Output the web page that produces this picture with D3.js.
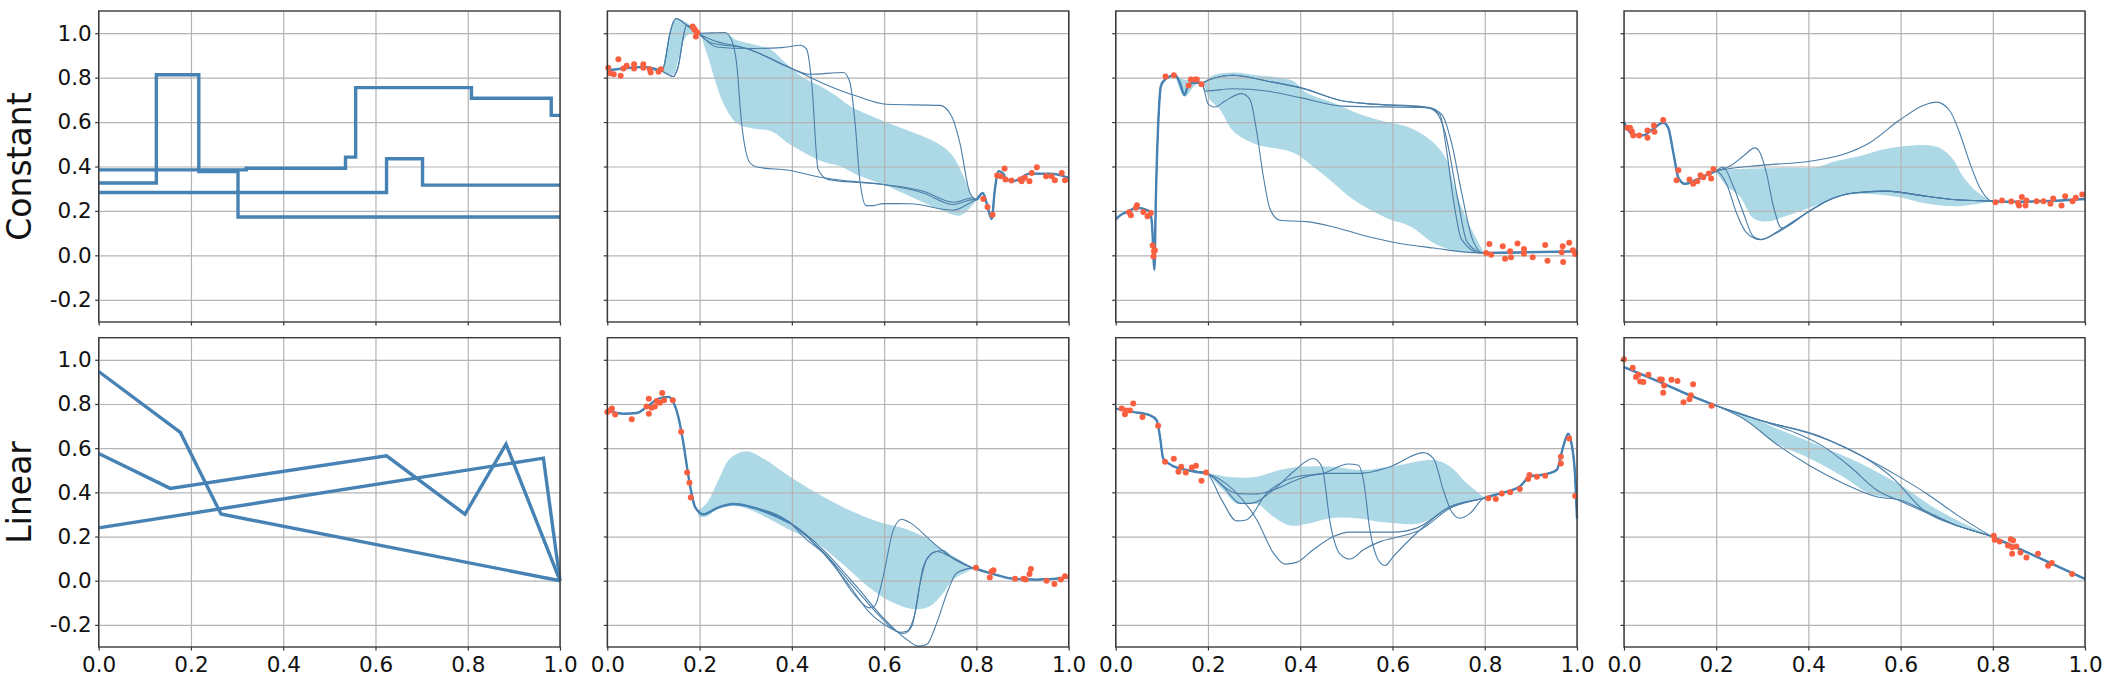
<!DOCTYPE html>
<html>
<head>
<meta charset="utf-8">
<script src="https://cdn.jsdelivr.net/npm/d3@7"></script>
<style>
  html, body { margin: 0; padding: 0; background: #fff; }
  text { font-family: "DejaVu Sans", sans-serif; fill: #111; }
</style>
</head>
<body>
<svg id="chart" width="2110" height="680"></svg>
<script>
const xTicks = [0, 0.2, 0.4, 0.6, 0.8, 1.0];
const yTicks = [-0.2, 0, 0.2, 0.4, 0.6, 0.8, 1.0];
const rowLabels = ["Constant", "Linear"];

// first column: the basis functions
const stepA = [[0,.326],[.125,.813],[.217,.377],[.302,.173],[1,.173]];
const stepB = [[0,.385],[.32,.392],[.535,.442],[.557,.755],[.808,.707],[.981,.63],[1,.63]];
const stepC = [[0,.283],[.624,.435],[.702,.316],[1,.316]];
const linA = [[0,.947],[.177,.671],[.265,.302],[1,0]];
const linB = [[0,.576],[.155,.418],[.624,.565],[.794,.301],[.883,.618],[1,0]];
const linC = [[0,.239],[.964,.555],[1,0]];

// Constant, second column
const cALeft = [[0,.833],[.035,.841],[.078,.848],[.118,.830]];
const cARight = [[.801,.251],[.814,.281],[.822,.236],[.833,.164],[.840,.296],[.848,.379],[.858,.368],[.866,.341],[.880,.334],[.916,.368],[.960,.368],[1,.349]];
const cAUp = [[.123,.853],[.136,1.003],[.149,1.066],[.172,1.036]];
const cADown = [[.143,.805],[.152,.838],[.172,1.036]];
const cAUpper = [[.120,.830],[.136,1.003],[.149,1.063],[.172,1.048],[.197,1.0],[.255,1.0],[.280,.970],[.324,.946],[.356,.925],[.382,.875],[.425,.800],[.468,.755],[.497,.717],[.526,.672],[.598,.605],[.656,.559],[.714,.507],[.746,.454],[.772,.356],[.790,.266],[.801,.251]];
const cALower = [[.125,.820],[.143,.815],[.154,.883],[.172,.988],[.197,1.0],[.215,.913],[.233,.792],[.251,.687],[.280,.596],[.316,.571],[.356,.559],[.396,.499],[.468,.421],[.504,.402],[.540,.364],[.598,.319],[.656,.266],[.721,.206],[.764,.179],[.793,.229],[.801,.251]];
const cA1 = [[.197,1.0],[.255,1.003],[.270,.965],[.280,.868],[.291,.597],[.309,.417],[.324,.398],[.396,.382],[.468,.349],[.526,.334],[.598,.319],[.685,.281],[.750,.229],[.793,.251]];
const cA2 = [[.197,1.0],[.237,.938],[.302,.931],[.378,.935],[.418,.946],[.432,.928],[.443,.777],[.457,.386],[.479,.341],[.598,.319],[.685,.289],[.750,.239],[.793,.259]];
const cA3 = [[.197,1.0],[.223,.958],[.302,.931],[.396,.845],[.439,.815],[.512,.823],[.526,.777],[.537,.597],[.548,.326],[.561,.224],[.577,.224],[.598,.233],[.656,.232],[.750,.203],[.793,.244]];
const cA4 = [[.197,1.0],[.223,.973],[.302,.931],[.396,.845],[.468,.774],[.540,.717],[.605,.680],[.721,.675],[.746,.627],[.764,.507],[.786,.281]];
const cAPoints = [[.002,.845],[.006,.820],[.014,.815],[.024,.883],[.029,.808],[.035,.841],[.042,.853],[.058,.860],[.058,.841],[.078,.860],[.078,.845],[.092,.838],[.094,.823],[.116,.838],[.111,.826],[.185,1.030],[.190,1.015],[.195,1.003],[.192,.985],[.188,1.02],[.815,.254],[.824,.218],[.835,.183],[.845,.359],[.853,.356],[.861,.391],[.863,.341],[.876,.337],[.895,.341],[.898,.334],[.905,.349],[.915,.334],[.920,.371],[.931,.397],[.951,.356],[.963,.356],[.970,.338],[.985,.371],[.992,.338]];

// Constant, third column
const cBLeft = [[0,.161],[.009,.179],[.027,.198],[.046,.214],[.074,.198],[.079,.131],[.084,-.065],[.087,.251],[.092,.582],[.098,.762],[.107,.792],[.129,.811],[.139,.777],[.149,.722],[.158,.770],[.172,.777],[.186,.777]];
const cBRight = [[.797,.011],[1,.018]];
const cBUpper = [[.129,.811],[.149,.790],[.172,.790],[.186,.777],[.212,.811],[.255,.823],[.306,.811],[.356,.800],[.385,.785],[.414,.732],[.472,.687],[.530,.635],[.587,.600],[.638,.574],[.689,.507],[.717,.432],[.736,.296],[.761,.161],[.797,.018]];
const cBLower = [[.129,.811],[.149,.715],[.172,.765],[.186,.777],[.204,.702],[.226,.657],[.255,.559],[.306,.499],[.385,.462],[.436,.386],[.472,.326],[.515,.251],[.587,.168],[.638,.131],[.689,.056],[.732,.023],[.797,.011]];
const cB1 = [[.201,.680],[.215,.668],[.237,.695],[.273,.728],[.291,.702],[.306,.552],[.320,.356],[.335,.206],[.356,.158],[.414,.152],[.472,.128],[.544,.086],[.602,.059],[.689,.033],[.790,.011]];
const cB2 = [[.194,.740],[.255,.750],[.327,.740],[.400,.710],[.493,.672],[.674,.665],[.703,.635],[.717,.477],[.732,.251],[.750,.071],[.790,.011]];
const cB3 = [[.204,.792],[.255,.811],[.327,.785],[.400,.755],[.493,.695],[.544,.683],[.674,.665],[.696,.642],[.714,.552],[.743,.236],[.761,.063],[.790,.014]];
const cB4 = [[.204,.792],[.255,.811],[.327,.785],[.400,.755],[.493,.695],[.544,.683],[.674,.668],[.707,.635],[.728,.507],[.750,.281],[.775,.063]];
const cBPoints = [[.029,.194],[.033,.180],[.044,.214],[.046,.226],[.060,.195],[.069,.176],[.076,.191],[.080,.044],[.083,.018],[.085,.023],[.082,-.005],[.108,.805],[.126,.811],[.158,.765],[.163,.792],[.176,.792],[.172,.792],[.186,.770],[.803,.011],[.810,.051],[.814,.003],[.839,.041],[.844,-.015],[.855,.018],[.857,-.008],[.871,.053],[.885,.029],[.885,.008],[.904,-.008],[.931,.047],[.936,-.024],[.969,.041],[.967,.014],[.970,-.030],[.983,.057],[.991,.023],[.996,.006]];

// Constant, fourth column
const cCLeft = [[0,.600],[.009,.564],[.020,.544],[.042,.540],[.064,.571],[.085,.597],[.096,.574],[.107,.462],[.118,.349],[.132,.322],[.158,.341],[.186,.368],[.199,.379]];
const cCRight = [[.798,.244],[.837,.241],[.909,.244],[1,.254]];
const cCUpper = [[.199,.379],[.223,.386],[.353,.394],[.418,.397],[.454,.421],[.512,.447],[.569,.480],[.656,.496],[.685,.484],[.714,.432],[.735,.356],[.764,.289],[.798,.244]];
const cCLower = [[.199,.379],[.223,.311],[.251,.266],[.280,.168],[.309,.153],[.360,.183],[.432,.236],[.490,.274],[.584,.266],[.656,.233],[.721,.221],[.798,.244]];
const cCTail = [[.396,.191],[.439,.244],[.497,.281],[.569,.289],[.656,.266],[.72,.250]];
const cC1 = [[.230,.402],[.259,.447],[.284,.484],[.295,.462],[.309,.371],[.324,.221],[.342,.123]];
const cC2 = [[.223,.319],[.244,.191],[.266,.101],[.295,.071],[.331,.101]];
const cC3 = [[.215,.398],[.237,.311],[.259,.191],[.280,.086],[.298,.071],[.337,.113]];
const cC4 = [[.302,.406],[.403,.424],[.475,.454],[.533,.507],[.598,.609],[.649,.675],[.678,.690],[.707,.650],[.728,.552],[.750,.417],[.772,.304]];
const cCPoints = [[.007,.574],[.013,.574],[.017,.559],[.020,.540],[.033,.540],[.051,.562],[.051,.529],[.065,.585],[.066,.556],[.085,.609],[.118,.383],[.114,.338],[.142,.341],[.150,.322],[.159,.334],[.166,.361],[.172,.352],[.189,.346],[.184,.368],[.194,.389],[.806,.239],[.820,.247],[.840,.242],[.855,.236],[.857,.224],[.863,.263],[.871,.224],[.873,.247],[.895,.244],[.910,.244],[.925,.232],[.931,.256],[.949,.224],[.957,.266],[.973,.244],[.980,.259],[.994,.274]];

// Linear, second column
const lALeft = [[0,.771],[.035,.756],[.064,.759],[.085,.786],[.111,.824],[.132,.832],[.143,.809],[.154,.741],[.165,.621],[.176,.471],[.190,.335],[.208,.301],[.237,.328],[.273,.347],[.309,.335],[.396,.262]];
const lARight = [[.793,.057],[.829,.035],[.880,.009],[.931,.005],[1,.015]];
const lAUpper = [[.197,.320],[.215,.350],[.241,.456],[.266,.553],[.302,.586],[.338,.553],[.396,.471],[.468,.380],[.540,.305],[.598,.260],[.642,.238],[.685,.200],[.728,.140],[.793,.057]];
const lALower = [[.197,.290],[.215,.290],[.241,.328],[.288,.335],[.396,.230],[.454,.170],[.512,.072],[.569,-.033],[.613,-.093],[.663,-.128],[.699,-.116],[.728,-.056],[.750,.005],[.793,.053]];
const lA1 = [[.425,.200],[.483,.095],[.533,-.056],[.569,-.123],[.580,-.113],[.598,.020],[.620,.230],[.638,.278],[.656,.263],[.699,.185],[.743,.110]];
const lA2 = [[.468,.125],[.526,-.026],[.569,-.146],[.613,-.214],[.642,-.239],[.660,-.206],[.678,-.011],[.692,.095],[.714,.132],[.743,.110]];
const lA3 = [[.468,.130],[.540,-.041],[.591,-.161],[.634,-.233],[.649,-.229],[.667,-.146],[.685,.065],[.707,.128],[.728,.137],[.743,.110]];
const lA4 = [[.468,.140],[.540,-.026],[.598,-.168],[.649,-.266],[.674,-.296],[.692,-.289],[.714,-.191],[.739,-.041],[.757,.035]];
const lAPoints = [[0,.764],[.006,.771],[.010,.779],[.017,.752],[.053,.731],[.085,.789],[.090,.824],[.090,.756],[.096,.783],[.103,.789],[.107,.814],[.114,.805],[.119,.850],[.123,.817],[.142,.817],[.160,.674],[.173,.490],[.178,.444],[.181,.377],[.799,.059],[.833,.042],[.829,.015],[.837,.047],[.884,.009],[.902,.009],[.907,.005],[.918,.053],[.915,.030],[.952,0],[.969,-.015],[.983,.005],[.992,.020]];

// Linear, third column
const lBLeft = [[0,.779],[.038,.764],[.074,.749],[.089,.726],[.096,.651],[.103,.553],[.121,.523],[.154,.501],[.197,.486]];
const lBRight = [[.797,.373],[.833,.395],[.876,.426],[.897,.471],[.934,.483],[.956,.501],[.970,.606],[.981,.666],[.988,.621],[.996,.471],[1,.283]];
const lBUpper = [[.197,.489],[.255,.468],[.306,.471],[.356,.501],[.400,.516],[.472,.516],[.530,.501],[.595,.516],[.689,.546],[.725,.516],[.761,.441],[.797,.380]];
const lBLower = [[.197,.489],[.233,.411],[.262,.350],[.306,.347],[.342,.290],[.378,.250],[.414,.257],[.465,.283],[.522,.283],[.587,.263],[.660,.260],[.717,.320],[.761,.358],[.797,.373]];
const lB1 = [[.262,.395],[.306,.392],[.342,.411],[.400,.463],[.457,.486],[.530,.486],[.544,.489],[.595,.516],[.667,.580],[.689,.553],[.710,.411],[.728,.313],[.746,.283],[.768,.305]];
const lB2 = [[.233,.426],[.270,.350],[.291,.350],[.342,.411],[.385,.493],[.428,.553],[.447,.516],[.465,.260],[.486,.122],[.508,.098],[.537,.140],[.573,.177],[.616,.200],[.660,.230],[.725,.328]];
const lB3 = [[.230,.365],[.262,.271],[.283,.275],[.327,.395],[.392,.471],[.450,.486],[.504,.528],[.526,.523],[.537,.456],[.551,.230],[.569,.095],[.584,.069],[.602,.110],[.652,.215],[.725,.335]];
const lB4 = [[.255,.411],[.306,.275],[.342,.125],[.367,.075],[.392,.083],[.428,.140],[.472,.200],[.508,.220],[.602,.220],[.652,.238],[.725,.335]];
const lBPoints = [[.013,.779],[.022,.771],[.020,.753],[.031,.771],[.038,.802],[.058,.741],[.092,.701],[.107,.538],[.126,.552],[.136,.493],[.142,.516],[.152,.490],[.165,.513],[.174,.520],[.196,.490],[.186,.453],[.808,.373],[.824,.370],[.837,.395],[.855,.400],[.876,.415],[.894,.460],[.897,.478],[.913,.471],[.931,.475],[.965,.531],[.965,.561],[.983,.644],[.996,.383]];

// Linear, fourth column
const lCLeft = [[0,.967],[.078,.899],[.143,.839],[.199,.793]];
const lCRight = [[.798,.200],[.902,.102],[1,.008]];
const lCUpper = [[.199,.793],[.260,.756],[.331,.689],[.403,.629],[.490,.553],[.548,.493],[.605,.426],[.663,.343],[.728,.268],[.798,.200]];
const lCLower = [[.199,.793],[.260,.734],[.331,.621],[.403,.553],[.475,.471],[.533,.395],[.598,.365],[.656,.313],[.728,.245],[.798,.200]];
const lC1 = [[.260,.732],[.331,.618],[.403,.520],[.475,.441],[.548,.380],[.598,.365],[.656,.313],[.728,.245]];
const lC2 = [[.295,.726],[.374,.668],[.432,.608],[.490,.517],[.548,.411],[.598,.362],[.656,.308],[.728,.245]];
const lC3 = [[.295,.726],[.403,.666],[.461,.621],[.519,.561],[.584,.463],[.649,.320],[.728,.245]];
const lC4 = [[.295,.726],[.418,.659],[.519,.561],[.591,.478],[.656,.395],[.728,.290]];
const lCPoints = [[0,1.002],[.019,.964],[.026,.922],[.031,.932],[.035,.902],[.042,.899],[.053,.932],[.078,.911],[.082,.911],[.087,.884],[.085,.851],[.103,.910],[.116,.904],[.129,.808],[.142,.821],[.145,.839],[.150,.889],[.190,.792],[.802,.203],[.804,.185],[.815,.177],[.833,.159],[.839,.188],[.844,.182],[.842,.152],[.851,.155],[.842,.122],[.860,.128],[.873,.105],[.898,.122],[.920,.068],[.928,.080],[.972,.030]];

const colBoxes = [[98.7, 560], [607.3, 1068.7], [1115.7, 1577], [1624, 2085]];
const rowBoxes = [[11, 322], [337.7, 647]];
const lineColor = "steelblue";
const thinColor = "#4a7ea8";
const bandColor = "#add8e6";
const pointColor = "#fa6040";

const svg = d3.select("#chart");

const basisPanels = [
  { row: 0, col: 0, curve: d3.curveStepAfter, lines: [stepA, stepB, stepC] },
  { row: 1, col: 0, curve: d3.curveLinear, lines: [linA, linB, linC] }
];

function joined(left, mid, right) {
  return left.concat(mid, right);
}

const fitPanels = [
  { row: 0, col: 1, upper: cAUpper, lower: cALower, left: cALeft, right: cARight, points: cAPoints,
    lines: [joined(cALeft, cAUp.concat(cA1), cARight), joined(cALeft, cADown.concat(cA2), cARight), joined(cALeft, cAUp.concat(cA3), cARight), joined(cALeft, cADown.concat(cA4), cARight)] },
  { row: 0, col: 2, upper: cBUpper, lower: cBLower, left: cBLeft, right: cBRight, points: cBPoints,
    lines: [cB1, cB2, cB3, cB4].map(m => joined(cBLeft, m, cBRight)) },
  { row: 0, col: 3, upper: cCUpper, lower: cCLower, left: cCLeft, right: cCRight, points: cCPoints,
    lines: [joined(cCLeft, cC1.concat(cCTail), cCRight), joined(cCLeft, cC2.concat(cCTail), cCRight), joined(cCLeft, cC3.concat(cCTail), cCRight), joined(cCLeft, cC4, cCRight)] },
  { row: 1, col: 1, upper: lAUpper, lower: lALower, left: lALeft, right: lARight, points: lAPoints,
    lines: [lA1, lA2, lA3, lA4].map(m => joined(lALeft, m, lARight)) },
  { row: 1, col: 2, upper: lBUpper, lower: lBLower, left: lBLeft, right: lBRight, points: lBPoints,
    lines: [lB1, lB2, lB3, lB4].map(m => joined(lBLeft, m, lBRight)) },
  { row: 1, col: 3, upper: lCUpper, lower: lCLower, left: lCLeft, right: lCRight, points: lCPoints,
    lines: [lC1, lC2, lC3, lC4].map(m => joined(lCLeft, m, lCRight)) }
];

function tickText(d) {
  return d.toFixed(1);
}

function setupPanel(row, col) {
  const x = d3.scaleLinear().domain([0, 1]).range(colBoxes[col]);
  const y = d3.scaleLinear().domain([-0.3, 1.1]).range([rowBoxes[row][1], rowBoxes[row][0]]);
  const g = svg.append("g");
  const back = g.append("g");
  const grid = g.append("g");
  const marks = g.append("g");
  const frame = g.append("g");

  const w = x.range()[1] - x.range()[0];
  const h = y.range()[0] - y.range()[1];

  grid.append("g").attr("transform", `translate(0,${y.range()[0]})`)
    .call(d3.axisBottom(x).tickValues(xTicks).tickSize(-h).tickFormat(""))
    .call(a => a.select(".domain").remove())
    .selectAll("line").attr("stroke", "#b4b4b4").attr("stroke-width", 1.2);
  grid.append("g").attr("transform", `translate(${x.range()[0]},0)`)
    .call(d3.axisLeft(y).tickValues(yTicks).tickSize(-w).tickFormat(""))
    .call(a => a.select(".domain").remove())
    .selectAll("line").attr("stroke", "#b4b4b4").attr("stroke-width", 1.2);

  const bottom = frame.append("g").attr("transform", `translate(0,${y.range()[0]})`)
    .call(d3.axisBottom(x).tickValues(xTicks).tickSize(3.5).tickPadding(6)
      .tickSizeOuter(0).tickFormat(row === 1 ? tickText : ""));
  const left = frame.append("g").attr("transform", `translate(${x.range()[0]},0)`)
    .call(d3.axisLeft(y).tickValues(yTicks).tickSize(3.5).tickPadding(3.5)
      .tickSizeOuter(0).tickFormat(col === 0 ? tickText : ""));
  for (const a of [bottom, left]) {
    a.selectAll("text").attr("font-size", 21.5).style("font-family", '"DejaVu Sans", sans-serif').attr("fill", "#111");
    a.selectAll("line").attr("stroke", "#333").attr("stroke-width", 1.2);
    a.select(".domain").remove();
  }
  frame.append("rect").attr("x", x.range()[0]).attr("y", y.range()[1])
    .attr("width", w).attr("height", h)
    .attr("fill", "none").attr("stroke", "#3a3a3a").attr("stroke-width", 1.4);

  return { x, y, back, marks };
}

basisPanels.forEach(p => {
  const { x, y, marks } = setupPanel(p.row, p.col);
  const line = d3.line().x(d => x(d[0])).y(d => y(d[1])).curve(p.curve);
  marks.selectAll("path").data(p.lines).enter().append("path")
    .attr("d", line).attr("fill", "none").attr("stroke", lineColor)
    .attr("stroke-width", 3.4).attr("stroke-linejoin", "miter");
});

fitPanels.forEach(p => {
  const { x, y, back, marks } = setupPanel(p.row, p.col);
  const line = d3.line().x(d => x(d[0])).y(d => y(d[1])).curve(d3.curveMonotoneX);
  const edge = d3.line().x(d => x(d[0])).y(d => y(d[1])).curve(d3.curveCatmullRom);

  const outline = edge(p.upper) + "L" + edge(p.lower.slice().reverse()).slice(1) + "Z";
  back.append("path").attr("d", outline).attr("fill", bandColor);

  marks.selectAll("path.fit").data(p.lines).enter().append("path")
    .attr("class", "fit").attr("d", line).attr("fill", "none")
    .attr("stroke", thinColor).attr("stroke-width", 1.1);
  marks.selectAll("path.common").data([p.left, p.right]).enter().append("path")
    .attr("class", "common").attr("d", line).attr("fill", "none")
    .attr("stroke", lineColor).attr("stroke-width", 2.4);
  marks.selectAll("circle").data(p.points).enter().append("circle")
    .attr("cx", d => x(d[0])).attr("cy", d => y(d[1])).attr("r", 3)
    .attr("fill", pointColor);
});

rowLabels.forEach((label, i) => {
  const cy = (rowBoxes[i][0] + rowBoxes[i][1]) / 2;
  svg.append("text")
    .attr("transform", `translate(19,${cy}) rotate(-90)`)
    .attr("text-anchor", "middle").attr("dominant-baseline", "central")
    .attr("font-size", 33).text(label);
});
</script>
</body>
</html>
